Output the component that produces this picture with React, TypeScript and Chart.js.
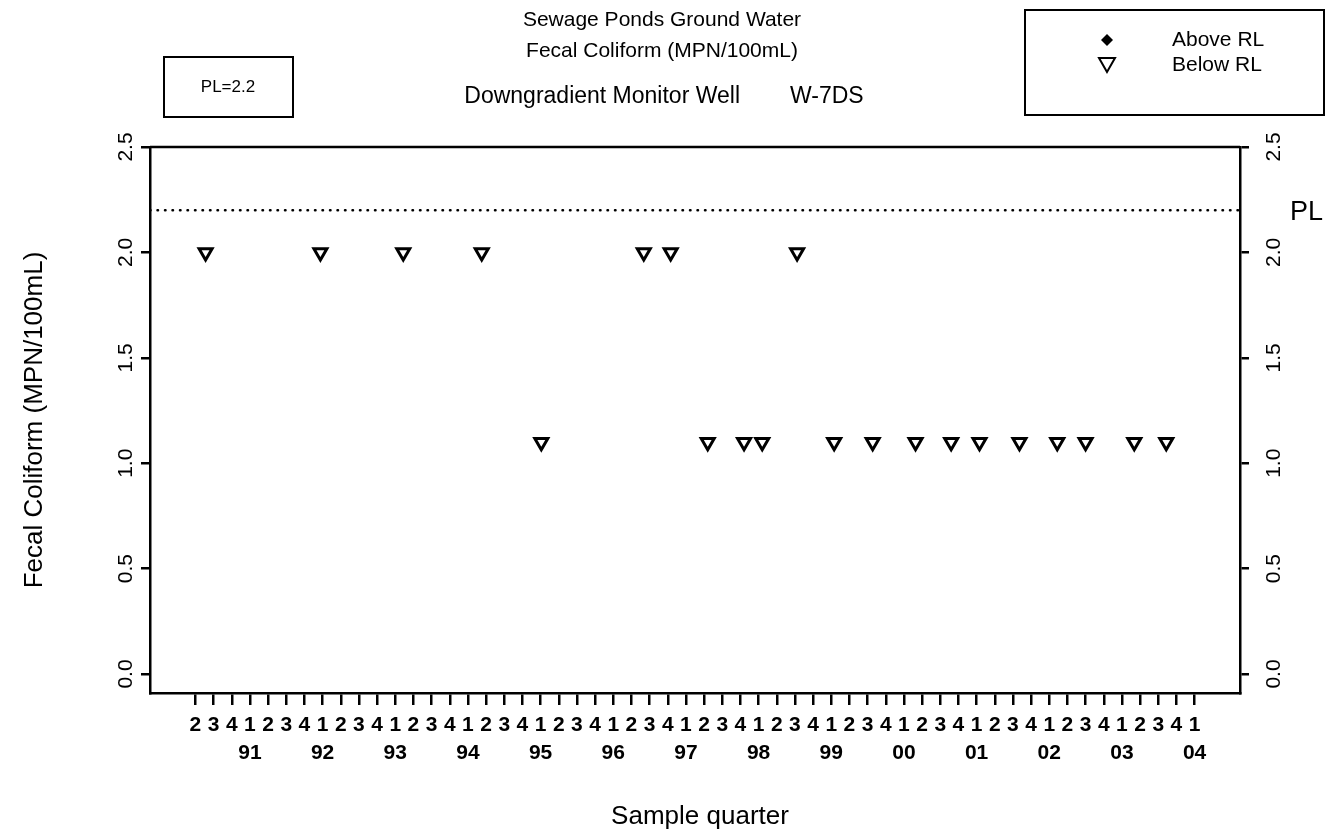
import React, { useEffect, useRef } from 'react';
import { Chart, registerables } from 'chart.js';

Chart.register(...registerables);

const FONT = '"Liberation Sans", Arial, Helvetica, sans-serif';

const TITLE_LINES = ['Sewage Ponds Ground Water', 'Fecal Coliform (MPN/100mL)'];
const SUBTITLE_LEFT = 'Downgradient Monitor Well';
const SUBTITLE_RIGHT = 'W-7DS';
const Y_TITLE = 'Fecal Coliform (MPN/100mL)';
const X_TITLE = 'Sample quarter';
const PL_VALUE = 2.2;
const PL_BOX_TEXT = 'PL=2.2';
const PL_TEXT = 'PL';
const LEGEND_LABELS = ['Above RL', 'Below RL'];

// quarter ticks start at 1990 Q2
const FIRST_QUARTER = 1990.25;
const QUARTER_LABELS = [
  '2', '3', '4',
  '1', '2', '3', '4',
  '1', '2', '3', '4',
  '1', '2', '3', '4',
  '1', '2', '3', '4',
  '1', '2', '3', '4',
  '1', '2', '3', '4',
  '1', '2', '3', '4',
  '1', '2', '3', '4',
  '1', '2', '3', '4',
  '1', '2', '3', '4',
  '1', '2', '3', '4',
  '1', '2', '3', '4',
  '1', '2', '3', '4',
  '1',
];
const YEAR_LABELS = ['91', '92', '93', '94', '95', '96', '97', '98', '99', '00', '01', '02', '03', '04'];
const Y_TICKS = [0, 0.5, 1.0, 1.5, 2.0, 2.5];
const Y_MIN = -0.09;
const Y_MAX = 2.5;
const X_MIN = 1989.625;
const X_MAX = 2004.625;

// samples (decimal year) and results
const ABOVE_RL_DATES: number[] = [];
const ABOVE_RL_VALUES: number[] = [];
const BELOW_RL_DATES = [
  1990.39, 1991.97, 1993.11, 1994.19, 1995.01, 1996.42, 1996.79, 1997.30, 1997.80, 1998.05,
  1998.53, 1999.04, 1999.57, 2000.16, 2000.65, 2001.04, 2001.59, 2002.11, 2002.50, 2003.17,
  2003.61,
];
const BELOW_RL_VALUES = [
  2.0, 2.0, 2.0, 2.0, 1.1, 2.0, 2.0, 1.1, 1.1, 1.1,
  2.0, 1.1, 1.1, 1.1, 1.1, 1.1, 1.1, 1.1, 1.1, 1.1,
  1.1,
];

function yearForTick(i: number): string {
  let count = -1;
  for (let k = 0; k <= i; k++) if (QUARTER_LABELS[k] === '1') count++;
  return QUARTER_LABELS[i] === '1' && count >= 0 ? YEAR_LABELS[count] : '';
}

const decorPlugin = {
  id: 'decor',
  afterDraw(chart: any) {
    const ctx: CanvasRenderingContext2D = chart.ctx;
    const area = chart.chartArea;
    ctx.save();
    ctx.fillStyle = '#000';
    ctx.strokeStyle = '#000';

    // top frame line
    ctx.lineWidth = 2.5;
    ctx.beginPath();
    ctx.moveTo(area.left, area.top);
    ctx.lineTo(area.right, area.top);
    ctx.stroke();

    // titles
    ctx.textAlign = 'center';
    ctx.textBaseline = 'middle';
    ctx.font = `21px ${FONT}`;
    ctx.fillText(TITLE_LINES[0], 662, 20);
    ctx.fillText(TITLE_LINES[1], 662, 51);
    ctx.font = `23px ${FONT}`;
    ctx.textAlign = 'right';
    ctx.fillText(SUBTITLE_LEFT, 740, 97);
    ctx.textAlign = 'left';
    ctx.fillText(SUBTITLE_RIGHT, 790, 97);

    // PL box
    ctx.lineWidth = 2;
    ctx.strokeRect(164, 57, 129, 60);
    ctx.textAlign = 'center';
    ctx.font = `17px ${FONT}`;
    ctx.fillText(PL_BOX_TEXT, 228, 87);

    // legend box
    ctx.strokeRect(1025, 10, 299, 105);
    ctx.font = `21px ${FONT}`;
    ctx.textAlign = 'left';
    ctx.fillText(LEGEND_LABELS[0], 1172, 40);
    ctx.fillText(LEGEND_LABELS[1], 1172, 65);
    // diamond
    ctx.beginPath();
    ctx.moveTo(1107, 34);
    ctx.lineTo(1113, 40);
    ctx.lineTo(1107, 46);
    ctx.lineTo(1101, 40);
    ctx.closePath();
    ctx.fill();
    // down triangle
    ctx.lineWidth = 2;
    ctx.beginPath();
    ctx.moveTo(1099, 58);
    ctx.lineTo(1115, 58);
    ctx.lineTo(1107, 72);
    ctx.closePath();
    ctx.stroke();

    // PL label on right
    const yScale = chart.scales.y;
    ctx.font = `27px ${FONT}`;
    ctx.textAlign = 'left';
    ctx.fillText(PL_TEXT, 1290, yScale.getPixelForValue(PL_VALUE) + 2);

    // rotated y tick labels (both sides)
    ctx.font = `21px ${FONT}`;
    ctx.textAlign = 'center';
    for (const t of yScale.ticks) {
      const py = yScale.getPixelForValue(t.value);
      const label = Number(t.value).toFixed(1);
      for (const px of [126, 1274]) {
        ctx.save();
        ctx.translate(px, py);
        ctx.rotate(-Math.PI / 2);
        ctx.fillText(label, 0, 0);
        ctx.restore();
      }
    }

    // axis titles
    ctx.font = `26px ${FONT}`;
    ctx.save();
    ctx.translate(35, (area.top + area.bottom) / 2);
    ctx.rotate(-Math.PI / 2);
    ctx.fillText(Y_TITLE, 0, 0);
    ctx.restore();
    ctx.fillText(X_TITLE, 700, 817);

    ctx.restore();
  },
};

export default function App() {
  const canvasRef = useRef<HTMLCanvasElement | null>(null);

  useEffect(() => {
    document.body.style.margin = '0';
    const canvas = canvasRef.current;
    if (!canvas) return;

    const yAxisCommon = (width: number, position: 'left' | 'right') => ({
      type: 'linear' as const,
      position,
      min: Y_MIN,
      max: Y_MAX,
      afterBuildTicks: (s: any) => {
        s.ticks = Y_TICKS.map((v) => ({ value: v }));
      },
      afterFit: (s: any) => {
        s.width = width;
      },
      ticks: { display: false },
      grid: {
        drawOnChartArea: false,
        drawTicks: true,
        tickLength: 9,
        color: '#000',
        lineWidth: 2.5,
      },
      border: { display: true, color: '#000', width: 2.5 },
    });

    const chart = new Chart(canvas, {
      type: 'scatter',
      data: {
        datasets: [
          {
            type: 'line',
            label: 'PL',
            data: [
              { x: X_MIN, y: PL_VALUE },
              { x: X_MAX, y: PL_VALUE },
            ],
            borderColor: '#000',
            borderWidth: 2.5,
            borderDash: [0.5, 7],
            borderCapStyle: 'round',
            pointRadius: 0,
            fill: false,
          } as any,
          {
            label: LEGEND_LABELS[0],
            data: ABOVE_RL_DATES.map((d, i) => ({ x: d, y: ABOVE_RL_VALUES[i] })),
            pointStyle: 'rectRot',
            pointRadius: 6,
            backgroundColor: '#000',
            borderColor: '#000',
          },
          {
            label: LEGEND_LABELS[1],
            data: BELOW_RL_DATES.map((d, i) => ({ x: d, y: BELOW_RL_VALUES[i] })),
            pointStyle: 'triangle',
            rotation: 180,
            pointRadius: 7.5,
            borderWidth: 3,
            borderColor: '#000',
            backgroundColor: '#fff',
          } as any,
        ],
      },
      options: {
        responsive: false,
        animation: false,
        events: [],
        layout: { padding: { top: 147, left: 0, right: 0, bottom: 0 } },
        plugins: {
          legend: { display: false },
          title: { display: false },
          tooltip: { enabled: false },
        },
        scales: {
          x: {
            type: 'linear',
            position: 'bottom',
            min: X_MIN,
            max: X_MAX,
            afterBuildTicks: (s: any) => {
              s.ticks = QUARTER_LABELS.map((_, i) => ({ value: FIRST_QUARTER + i * 0.25 }));
            },
            afterFit: (s: any) => {
              s.height = 140;
            },
            ticks: {
              autoSkip: false,
              maxRotation: 0,
              minRotation: 0,
              padding: 7,
              color: '#000',
              font: { family: FONT, size: 21, weight: 'bold', lineHeight: 1.3 },
              callback: (v: any) => {
                const i = Math.round((Number(v) - FIRST_QUARTER) * 4);
                return [QUARTER_LABELS[i] ?? '', yearForTick(i)];
              },
            },
            grid: {
              drawOnChartArea: false,
              drawTicks: true,
              tickLength: 12,
              color: '#000',
              lineWidth: 2.5,
            },
            border: { display: true, color: '#000', width: 2.5 },
          },
          y: yAxisCommon(150, 'left'),
          y2: yAxisCommon(94, 'right'),
        } as any,
      },
      plugins: [decorPlugin],
    });

    return () => chart.destroy();
  }, []);

  return (
    <div style={{ width: 1334, height: 833, background: '#fff' }}>
      <canvas ref={canvasRef} width={1334} height={833} style={{ display: 'block' }} />
    </div>
  );
}
